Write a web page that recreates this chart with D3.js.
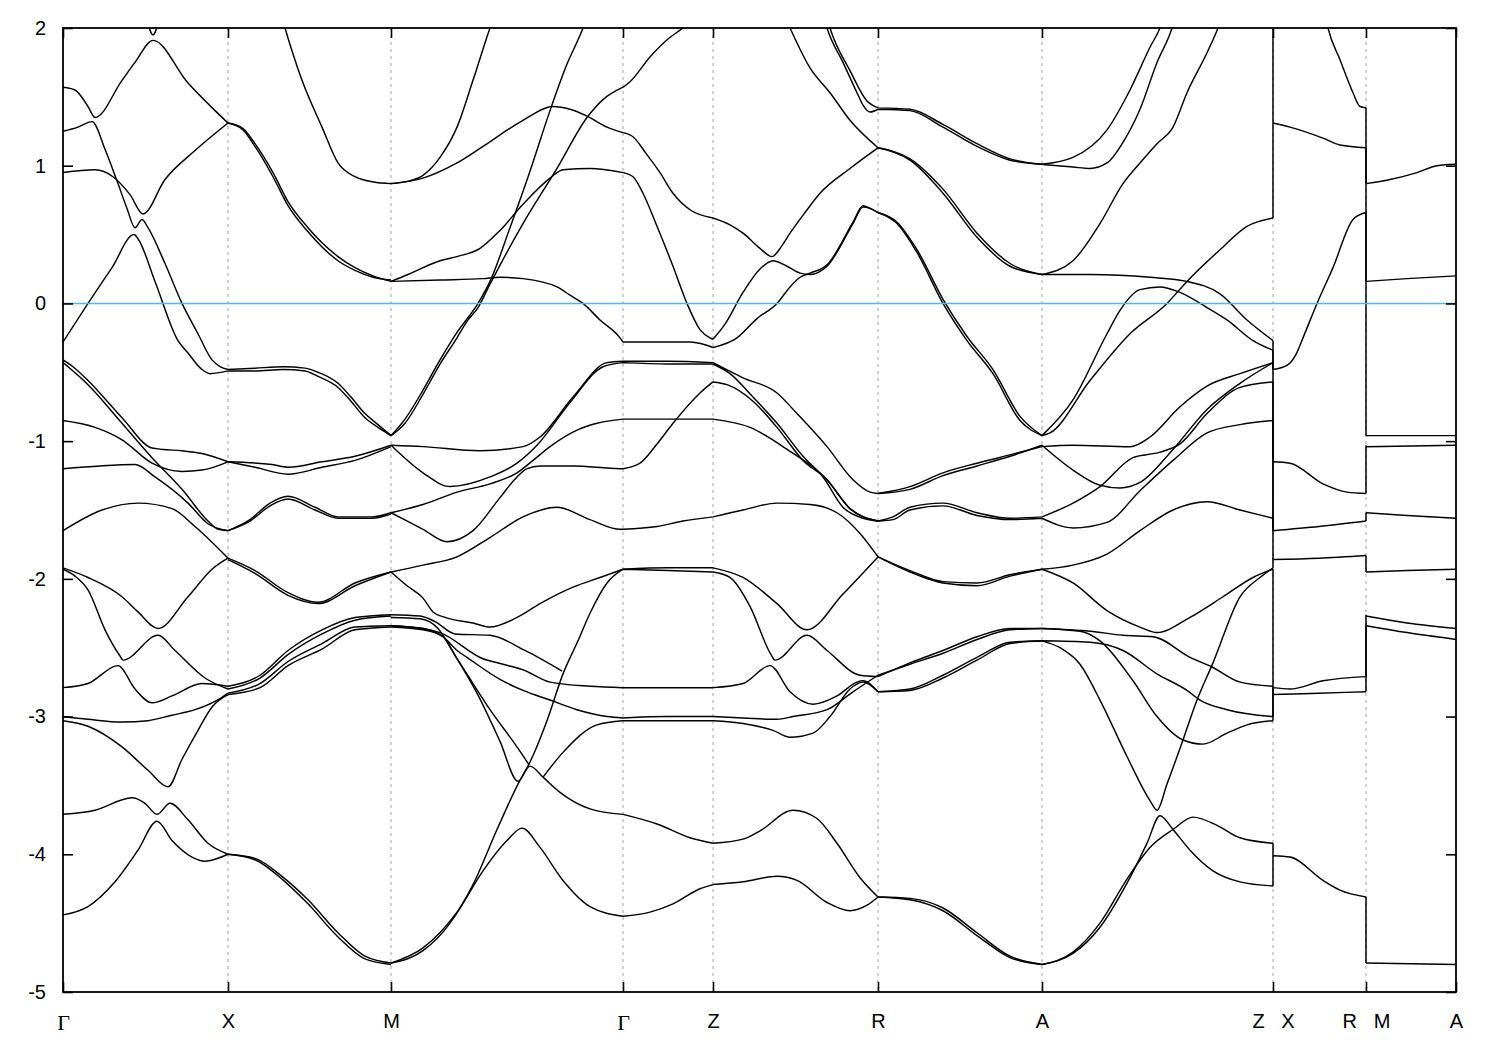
<!DOCTYPE html>
<html><head><meta charset="utf-8">
<script src="https://cdn.jsdelivr.net/npm/d3@7"></script>
<style>body{margin:0;background:#fff}svg{display:block}</style>
</head><body>
<svg id="chart" width="1500" height="1050"></svg>
<script>
// ---- axis data ----
const kTicks  = [0, 1.65, 3.28, 5.60, 6.50, 8.15, 9.79, 12.10, 13.03, 13.93];
const kLabels = ["Γ","X","M","Γ","Z","R","A","Z\u00a0\u00a0\u00a0X","R\u00a0\u00a0\u00a0M","A"];
const yTicks  = [-5,-4,-3,-2,-1,0,1,2];
const fermiLevel = 0;

// ---- Γ–X ----
const gx1 = [[0,1.57],[0.12,1.55],[0.25,1.43],[0.32,1.35],[0.59,1.62],[0.72,1.75],[0.90,1.91],[1.25,1.60],[1.52,1.40],[1.65,1.31]];
const gx2 = [[0,1.25],[0.15,1.28],[0.29,1.32],[0.42,1.12],[0.54,0.89],[0.64,0.69],[0.72,0.55],[0.79,0.61],[0.85,0.55],[1.02,0.29],[1.19,0.0],[1.35,-0.22],[1.49,-0.41],[1.65,-0.48]];
const gx3 = [[0,0.95],[0.32,0.97],[0.50,0.92],[0.67,0.79],[0.80,0.65],[1.02,0.90],[1.32,1.11],[1.65,1.31]];
const gx4 = [[0,-0.28],[0.25,0.0],[0.49,0.26],[0.71,0.50],[0.75,0.47],[0.92,0.16],[1.15,-0.27],[1.25,-0.36],[1.39,-0.48],[1.47,-0.51],[1.65,-0.49]];
const gx5 = [[0.83,2.1],[0.90,1.95],[0.97,2.1]];
const gx6 = [[0,-0.41],[0.10,-0.46],[0.25,-0.56],[0.59,-0.83],[0.89,-1.05],[1.0,-1.06],[1.19,-1.07],[1.39,-1.09],[1.65,-1.15]];
const gx7 = [[0,-0.43],[0.25,-0.59],[0.59,-0.87],[0.89,-1.12],[1.19,-1.35],[1.45,-1.58],[1.55,-1.64],[1.65,-1.65]];
const gx8 = [[0,-0.85],[0.32,-0.90],[0.59,-0.99],[0.89,-1.16],[1.19,-1.22],[1.39,-1.21],[1.65,-1.15]];
const gx9 = [[0,-1.20],[0.37,-1.18],[0.72,-1.17],[0.92,-1.26],[1.25,-1.45],[1.45,-1.60],[1.65,-1.65]];
const gx10 = [[0,-1.65],[0.39,-1.50],[0.75,-1.45],[1.09,-1.49],[1.32,-1.62],[1.65,-1.85]];
const gx11 = [[0,-1.92],[0.25,-1.99],[0.59,-2.13],[0.75,-2.24],[0.95,-2.36],[1.25,-2.13],[1.49,-1.93],[1.65,-1.85]];
const gx12 = [[0,-1.93],[0.12,-1.98],[0.25,-2.08],[0.42,-2.37],[0.57,-2.56],[0.60,-2.59],[0.95,-2.41],[1.12,-2.52],[1.42,-2.72],[1.65,-2.80]];
const gx13 = [[0,-2.79],[0.25,-2.76],[0.55,-2.63],[0.72,-2.80],[0.89,-2.90],[1.09,-2.85],[1.39,-2.76],[1.65,-2.78]];
const gx14 = [[0,-3.00],[0.25,-3.02],[0.59,-3.04],[0.85,-3.03],[1.09,-2.99],[1.32,-2.95],[1.59,-2.86],[1.65,-2.83]];
const gx15 = [[0,-3.03],[0.25,-3.07],[0.59,-3.22],[0.85,-3.39],[1.05,-3.51],[1.19,-3.31],[1.35,-3.10],[1.49,-2.93],[1.65,-2.84]];
const gx16 = [[0,-3.71],[0.32,-3.68],[0.69,-3.59],[0.82,-3.63],[0.94,-3.71],[1.07,-3.63],[1.25,-3.75],[1.45,-3.92],[1.65,-4.0]];
const gx17 = [[0,-4.44],[0.25,-4.38],[0.52,-4.20],[0.75,-3.97],[0.94,-3.76],[1.09,-3.90],[1.29,-4.02],[1.42,-4.05],[1.65,-4.0]];

// ---- X–M ----
const xm1 = [[1.65,1.31],[1.80,1.26],[1.92,1.14],[2.10,0.92],[2.25,0.71],[2.45,0.52],[2.59,0.41],[2.75,0.31],[2.92,0.24],[3.10,0.19],[3.28,0.17]];
const xm2 = [[1.65,1.31],[1.80,1.27],[1.92,1.16],[2.10,0.95],[2.25,0.74],[2.45,0.55],[2.59,0.44],[2.75,0.34],[2.92,0.26],[3.10,0.20],[3.28,0.16]];
const xm3 = [[2.18,2.1],[2.22,2.0],[2.39,1.62],[2.59,1.28],[2.75,1.02],[2.92,0.92],[3.12,0.88],[3.28,0.87]];
const xm4 = [[1.65,-0.48],[1.92,-0.47],[2.20,-0.46],[2.42,-0.47],[2.55,-0.50],[2.75,-0.58],[2.88,-0.68],[3.02,-0.80],[3.15,-0.88],[3.28,-0.96]];
const xm5 = [[1.65,-0.49],[1.92,-0.49],[2.20,-0.48],[2.42,-0.49],[2.55,-0.53],[2.75,-0.61],[2.88,-0.71],[3.02,-0.83],[3.15,-0.90],[3.28,-0.96]];
const xm6 = [[1.65,-1.15],[1.92,-1.19],[2.25,-1.24],[2.59,-1.19],[2.92,-1.14],[3.28,-1.04]];
const xm7 = [[1.65,-1.15],[2.09,-1.17],[2.25,-1.19],[2.59,-1.15],[2.92,-1.11],[3.28,-1.03]];
const xm8 = [[1.65,-1.65],[1.87,-1.58],[2.07,-1.47],[2.25,-1.42],[2.52,-1.50],[2.75,-1.56],[3.09,-1.56],[3.28,-1.53]];
const xm9 = [[1.65,-1.65],[1.87,-1.57],[2.07,-1.45],[2.25,-1.40],[2.52,-1.48],[2.75,-1.55],[3.09,-1.55],[3.28,-1.52]];
const xm10 = [[1.65,-1.85],[1.92,-1.94],[2.25,-2.10],[2.55,-2.17],[2.92,-2.03],[3.28,-1.95]];
const xm11 = [[1.65,-1.86],[1.92,-1.96],[2.25,-2.12],[2.55,-2.18],[2.92,-2.05],[3.28,-1.95]];
const xm12 = [[1.65,-2.78],[1.97,-2.70],[2.25,-2.52],[2.59,-2.37],[2.92,-2.28],[3.28,-2.26]];
const xm13 = [[1.65,-2.80],[1.97,-2.72],[2.25,-2.55],[2.59,-2.40],[2.92,-2.30],[3.28,-2.27]];
const xm14 = [[1.65,-2.83],[1.97,-2.76],[2.25,-2.60],[2.59,-2.47],[2.92,-2.35],[3.28,-2.34]];
const xm15 = [[1.65,-2.84],[1.97,-2.79],[2.25,-2.63],[2.59,-2.51],[2.92,-2.37],[3.28,-2.35]];
const xm16 = [[1.65,-4.00],[1.92,-4.03],[2.19,-4.16],[2.45,-4.33],[2.75,-4.57],[3.02,-4.74],[3.28,-4.79]];
const xm17 = [[1.65,-4.00],[1.92,-4.04],[2.19,-4.18],[2.45,-4.36],[2.75,-4.60],[3.02,-4.76],[3.28,-4.80]];

// ---- M–Γ–Z–R–A–Z bands ----
const chainA = [[3.28,0.87],[3.60,0.91],[3.94,1.02],[4.20,1.14],[4.60,1.33],[4.90,1.43],[5.07,1.41],[5.24,1.36],[5.44,1.28],[5.60,1.24],
  [5.70,1.21],[5.83,1.09],[5.97,0.95],[6.10,0.80],[6.27,0.68],[6.50,0.62],
  [6.67,0.57],[6.80,0.51],[6.97,0.40],[7.09,0.34],[7.19,0.42],[7.27,0.51],[7.42,0.66],[7.57,0.80],[7.87,0.98],[8.15,1.13],
  [8.47,1.04],[8.80,0.80],[9.14,0.48],[9.47,0.27],[9.79,0.21],
  [10.27,0.21],[10.87,0.19],[11.24,0.16],[11.57,0.07],[11.84,-0.12],[12.10,-0.27]];
const chainB = [[3.28,0.87],[3.47,0.89],[3.60,0.93],[3.77,1.06],[3.94,1.28],[4.10,1.62],[4.27,2.0],[4.32,2.1]];
const chainC = [[3.28,0.16],[3.45,0.21],[3.60,0.26],[3.77,0.31],[3.94,0.34],[4.17,0.40],[4.37,0.53],[4.60,0.72],[4.87,0.91],[5.00,0.97],[5.27,0.98],[5.60,0.95],
  [5.70,0.92],[5.80,0.80],[5.94,0.56],[6.10,0.27],[6.24,0.0],[6.37,-0.19],[6.47,-0.25],[6.50,-0.26],
  [6.62,-0.15],[6.80,0.08],[6.97,0.25],[7.10,0.31],[7.24,0.27],[7.37,0.22],[7.47,0.21],[7.64,0.27],[7.90,0.58],[8.00,0.70],[8.07,0.69],[8.15,0.66],
  [8.34,0.58],[8.54,0.37],[8.80,0.0],[9.04,-0.27],[9.30,-0.51],[9.57,-0.85],[9.79,-0.96],
  [10.10,-0.70],[10.44,-0.22],[10.57,-0.05],[10.77,0.10],[10.97,0.12],[11.17,0.08],[11.44,-0.03],[11.64,-0.12],[11.90,-0.27],[12.10,-0.34]];
const chainD = [[3.28,0.16],[3.77,0.17],[4.20,0.18],[4.37,0.19],[4.60,0.18],[4.94,0.12],[5.07,0.06],[5.20,0.0],[5.37,-0.12],[5.57,-0.25],[5.60,-0.28],
  [5.90,-0.28],[6.27,-0.28],[6.42,-0.30],[6.50,-0.32],
  [6.74,-0.25],[6.94,-0.11],[7.14,0.0],[7.27,0.12],[7.37,0.19],[7.47,0.22],[7.64,0.28],[7.90,0.59],[8.00,0.71],[8.07,0.69],[8.15,0.66],
  [8.34,0.59],[8.54,0.39],[8.80,0.03],[9.04,-0.24],[9.30,-0.48],[9.57,-0.82],[9.79,-0.96],
  [9.87,-0.94],[10.27,-0.56],[10.67,-0.22],[11.04,0.0],[11.24,0.16],[11.57,0.39],[11.84,0.56],[12.10,0.62]];
const chainE = [[3.28,-0.96],[3.42,-0.84],[3.60,-0.63],[3.77,-0.41],[3.94,-0.21],[4.15,0.0],[4.27,0.16],[4.47,0.55],[4.67,0.96],[4.87,1.40],[5.03,1.72],[5.20,2.0],[5.25,2.1]];
const chainF = [[3.28,-0.96],[3.42,-0.87],[3.60,-0.66],[3.77,-0.44],[3.94,-0.25],[4.04,-0.13],[4.15,-0.03],[4.27,0.14],[4.60,0.58],[4.94,0.98],[5.24,1.35],[5.40,1.48],[5.60,1.57],
  [5.67,1.61],[5.87,1.79],[6.05,1.92],[6.20,2.0],[6.30,2.06]];
const chainG = [[3.28,-1.03],[3.60,-1.04],[4.17,-1.07],[4.60,-1.04],[4.77,-0.97],[5.10,-0.68],[5.44,-0.43],[5.60,-0.42],
  [6.05,-0.42],[6.50,-0.43],
  [6.80,-0.54],[7.14,-0.65],[7.34,-0.80],[7.64,-1.04],[7.90,-1.28],[8.07,-1.37],[8.15,-1.38],
  [8.47,-1.33],[8.80,-1.23],[9.14,-1.16],[9.47,-1.10],[9.79,-1.04],
  [10.10,-1.03],[10.67,-1.04],[10.87,-0.97],[11.17,-0.75],[11.44,-0.60],[11.77,-0.51],[12.10,-0.43]];
const chainH = [[3.28,-1.03],[3.60,-1.23],[3.87,-1.33],[4.27,-1.26],[4.54,-1.16],[4.74,-1.03],[5.07,-0.72],[5.40,-0.46],[5.60,-0.43],
  [6.05,-0.44],[6.50,-0.44],
  [6.67,-0.51],[6.90,-0.68],[7.14,-0.87],[7.40,-1.11],[7.60,-1.26],[7.80,-1.48],[8.00,-1.56],[8.15,-1.58],
  [8.30,-1.55],[8.47,-1.48],[8.80,-1.45],[9.14,-1.52],[9.47,-1.56],[9.79,-1.55],
  [10.10,-1.45],[10.37,-1.33],[10.70,-1.12],[10.97,-1.08],[11.17,-1.02],[11.44,-0.80],[11.77,-0.61],[12.10,-0.57]];
const chainI = [[3.28,-1.52],[3.60,-1.46],[3.94,-1.37],[4.27,-1.31],[4.54,-1.23],[4.70,-1.14],[4.87,-1.04],[5.14,-0.92],[5.34,-0.87],[5.60,-0.84],
  [6.05,-0.84],[6.50,-0.84],
  [6.87,-0.90],[7.24,-1.06],[7.64,-1.28],[7.87,-1.49],[8.15,-1.58],
  [8.30,-1.57],[8.47,-1.50],[8.80,-1.47],[9.14,-1.54],[9.47,-1.57],[9.79,-1.56],
  [10.10,-1.63],[10.44,-1.59],[10.77,-1.36],[11.10,-1.14],[11.44,-0.94],[11.77,-0.88],[12.10,-0.85]];
const chainJ = [[3.28,-1.52],[3.60,-1.64],[3.84,-1.73],[4.10,-1.65],[4.37,-1.41],[4.54,-1.26],[4.64,-1.20],[4.77,-1.18],[5.10,-1.18],[5.57,-1.20],[5.60,-1.20],
  [5.77,-1.16],[5.93,-1.03],[6.10,-0.87],[6.37,-0.65],[6.50,-0.57],
  [6.64,-0.59],[6.90,-0.71],[7.14,-0.90],[7.40,-1.14],[7.64,-1.28],[7.87,-1.49],[8.15,-1.58]];
const chainK = [[3.28,-1.95],[3.60,-1.90],[3.94,-1.84],[4.27,-1.70],[4.60,-1.55],[4.94,-1.48],[5.27,-1.57],[5.57,-1.64],[5.60,-1.64],
  [5.94,-1.62],[6.20,-1.58],[6.50,-1.55],
  [6.80,-1.50],[7.14,-1.45],[7.47,-1.46],[7.74,-1.52],[7.97,-1.67],[8.15,-1.84],
  [8.47,-1.94],[8.80,-2.02],[9.14,-2.03],[9.47,-1.97],[9.79,-1.93],
  [10.10,-1.90],[10.44,-1.82],[10.77,-1.65],[11.10,-1.50],[11.44,-1.44],[11.77,-1.50],[12.10,-1.56]];
const chainL = [[3.28,-1.95],[3.44,-2.05],[3.60,-2.14],[3.70,-2.24],[3.82,-2.28],[4.10,-2.32],[4.27,-2.35],[4.54,-2.28],[4.77,-2.18],[5.10,-2.06],[5.37,-1.99],[5.60,-1.93],
  [6.05,-1.92],[6.50,-1.92],
  [6.80,-1.99],[7.14,-2.18],[7.44,-2.37],[7.80,-2.11],[8.15,-1.84],
  [8.47,-1.95],[8.80,-2.03],[9.14,-2.05],[9.47,-1.98],[9.79,-1.93],
  [10.10,-2.03],[10.44,-2.23],[10.77,-2.35],[10.94,-2.39],[11.27,-2.28],[11.60,-2.13],[11.90,-1.99],[12.10,-1.93]];
const chainM = [[3.28,-4.79],[3.60,-4.70],[3.87,-4.50],[4.10,-4.22],[4.34,-3.82],[4.55,-3.49],[4.67,-3.33],[4.84,-3.03],[5.00,-2.69],[5.15,-2.45],[5.27,-2.25],[5.44,-2.03],[5.60,-1.93],
  [6.05,-1.94],[6.50,-1.95],
  [6.67,-1.99],[6.87,-2.20],[7.08,-2.55],[7.12,-2.59],[7.44,-2.41],[7.64,-2.52],[7.97,-2.70],[8.15,-2.71],
  [8.47,-2.61],[8.80,-2.52],[9.14,-2.42],[9.47,-2.36],[9.79,-2.36],
  [10.27,-2.38],[10.60,-2.41],[10.90,-2.42],[11.27,-2.57],[11.49,-2.64],[11.77,-2.75],[12.10,-2.78]];
const chainN = [[3.28,-4.79],[3.60,-4.68],[3.94,-4.42],[4.20,-4.12],[4.44,-3.90],[4.59,-3.81],[4.77,-3.95],[5.00,-4.19],[5.27,-4.38],[5.60,-4.45],
  [5.87,-4.42],[6.10,-4.36],[6.37,-4.25],[6.50,-4.22],
  [6.80,-4.20],[7.14,-4.16],[7.34,-4.19],[7.64,-4.35],[7.87,-4.41],[8.04,-4.37],[8.15,-4.31],
  [8.47,-4.32],[8.80,-4.39],[9.14,-4.57],[9.47,-4.74],[9.79,-4.80],
  [10.10,-4.72],[10.37,-4.53],[10.64,-4.21],[10.84,-3.92],[10.97,-3.72],[11.10,-3.82],[11.27,-3.97],[11.50,-4.12],[11.77,-4.20],[12.10,-4.23]];
const chainO = [[3.28,-2.28],[3.57,-2.29],[3.75,-2.36],[3.89,-2.52],[4.14,-2.83],[4.37,-3.18],[4.55,-3.47],[4.67,-3.36],[4.80,-3.44],[4.97,-3.55],[5.27,-3.67],[5.60,-3.71],
  [5.94,-3.78],[6.27,-3.88],[6.50,-3.92],
  [6.80,-3.89],[6.97,-3.83],[7.30,-3.68],[7.54,-3.74],[7.74,-3.92],[7.97,-4.17],[8.15,-4.31],
  [8.47,-4.33],[8.80,-4.41],[9.14,-4.59],[9.47,-4.75],[9.79,-4.80],
  [10.10,-4.71],[10.37,-4.50],[10.64,-4.18],[10.87,-3.95],[11.10,-3.82],[11.30,-3.73],[11.54,-3.79],[11.77,-3.88],[12.10,-3.92]];
const chainP = [[4.80,-3.44],[5.00,-3.26],[5.34,-3.06],[5.60,-3.03],
  [6.05,-3.03],[6.50,-3.03],
  [6.80,-3.05],[7.10,-3.10],[7.27,-3.15],[7.50,-3.12],[7.67,-3.00],[7.87,-2.80],[8.00,-2.75],[8.15,-2.82],
  [8.47,-2.81],[8.80,-2.72],[9.14,-2.59],[9.47,-2.47],[9.79,-2.45],
  [10.27,-2.46],[10.60,-2.52],[10.94,-2.69],[11.24,-2.81],[11.37,-2.88],[11.64,-2.95],[12.10,-3.00]];
const chainQ = [[3.28,-2.34],[3.60,-2.36],[3.80,-2.42],[3.94,-2.52],[4.04,-2.57],[4.37,-2.73],[4.60,-2.81],[4.87,-2.88],[5.14,-2.95],[5.44,-3.0],[5.60,-3.01],
  [6.05,-3.0],[6.50,-3.0],
  [6.80,-3.01],[7.14,-3.02],[7.30,-3.0],[7.64,-2.95],[7.90,-2.82],[8.15,-2.70],
  [8.47,-2.62],[8.80,-2.54],[9.14,-2.44],[9.47,-2.37],[9.79,-2.36],
  [10.17,-2.38],[10.37,-2.45],[10.70,-2.74],[10.94,-3.0],[11.20,-3.17],[11.40,-3.20],[11.64,-3.12],[11.84,-3.06],[12.10,-3.03]];
const chainR = [[3.28,-2.34],[3.60,-2.36],[3.77,-2.39],[4.20,-2.58],[4.40,-2.62],[4.60,-2.66],[4.87,-2.75],[5.27,-2.78],[5.60,-2.79],
  [6.05,-2.79],[6.50,-2.79],
  [6.80,-2.76],[7.07,-2.63],[7.27,-2.82],[7.50,-2.91],[7.74,-2.85],[7.94,-2.75],[8.00,-2.74],[8.15,-2.82],
  [8.47,-2.80],[8.80,-2.70],[9.14,-2.57],[9.47,-2.46],[9.79,-2.45],
  [9.97,-2.50],[10.17,-2.62],[10.37,-2.88],[10.64,-3.29],[10.87,-3.61],[10.94,-3.68],[11.04,-3.49],[11.20,-3.17],[11.34,-2.88],[11.50,-2.61],[11.77,-2.13],[11.97,-1.99],[12.10,-1.92]];
const chainS = [[3.28,-2.26],[3.57,-2.27],[3.72,-2.31],[3.92,-2.40],[4.27,-2.41],[4.62,-2.52],[4.99,-2.67]];
const chainT = [[3.28,-2.35],[3.60,-2.37],[3.80,-2.42],[3.94,-2.58],[4.10,-2.76],[4.27,-2.95],[4.54,-3.22],[4.66,-3.35]];
const chainU = [[7.22,2.08],[7.27,2.0],[7.47,1.71],[7.67,1.53],[7.87,1.33],[8.15,1.13],[8.47,1.05],[8.80,0.83],[9.14,0.51],[9.47,0.29],[9.79,0.21],
  [10.10,0.31],[10.37,0.58],[10.60,0.87],[10.77,1.02],[10.94,1.16],[11.10,1.28],[11.24,1.53],[11.44,1.82],[11.55,2.0],[11.60,2.1]];
const chainV = [[7.60,2.1],[7.64,2.0],[7.80,1.75],[7.94,1.53],[8.00,1.44],[8.07,1.39],[8.15,1.41],
  [8.47,1.40],[8.80,1.28],[9.14,1.14],[9.47,1.04],[9.79,1.01],
  [10.10,1.06],[10.44,1.26],[10.67,1.55],[10.87,1.86],[10.97,2.0],[11.02,2.1]];
const chainW = [[7.63,2.1],[7.67,2.0],[7.87,1.69],[8.04,1.47],[8.15,1.42],
  [8.47,1.41],[8.80,1.30],[9.14,1.16],[9.47,1.05],[9.79,1.01],
  [10.10,0.99],[10.27,0.98],[10.44,1.02],[10.60,1.17],[10.77,1.41],[10.94,1.75],[11.09,2.0],[11.13,2.1]];
const chainX = [[8.15,-1.38],[8.47,-1.35],[8.80,-1.25],[9.14,-1.18],[9.47,-1.11],[9.79,-1.03],
  [10.10,-1.21],[10.37,-1.32],[10.57,-1.34],[10.77,-1.30],[11.10,-1.06],[11.44,-0.77],[11.77,-0.58],[12.10,-0.43]];

// ---- X–R ----
const xr1 = [[12.10,1.31],[12.27,1.28],[12.60,1.20],[12.77,1.15],[13.03,1.13]];
const xr2 = [[12.62,2.1],[12.65,2.0],[12.77,1.77],[12.90,1.53],[12.97,1.43],[13.03,1.42]];
const xr3 = [[12.10,-0.48],[12.24,-0.45],[12.33,-0.37],[12.40,-0.25],[12.54,0.0],[12.70,0.26],[12.90,0.61],[13.03,0.66]];
const xr4 = [[12.10,-1.15],[12.27,-1.16],[12.60,-1.31],[12.84,-1.37],[13.03,-1.38]];
const xr5 = [[12.10,-1.65],[12.56,-1.62],[13.03,-1.58]];
const xr6 = [[12.10,-1.86],[12.56,-1.85],[13.03,-1.83]];
const xr7 = [[12.10,-2.79],[12.27,-2.80],[12.60,-2.74],[13.03,-2.71]];
const xr8 = [[12.10,-2.84],[12.56,-2.83],[13.03,-2.82]];
const xr9 = [[12.10,-4.01],[12.27,-4.02],[12.60,-4.19],[12.77,-4.26],[13.03,-4.31]];

// ---- M–A ----
const ma1 = [[13.03,0.87],[13.27,0.90],[13.54,0.95],[13.74,1.0],[13.93,1.01]];
const ma2 = [[13.03,0.16],[13.44,0.18],[13.93,0.20]];
const ma3 = [[13.03,-0.96],[13.93,-0.96]];
const ma4 = [[13.03,-1.04],[13.93,-1.03]];
const ma5 = [[13.03,-1.52],[13.44,-1.54],[13.93,-1.56]];
const ma6 = [[13.03,-1.95],[13.44,-1.94],[13.93,-1.93]];
const ma7 = [[13.03,-2.27],[13.44,-2.32],[13.93,-2.36]];
const ma8 = [[13.03,-2.34],[13.44,-2.39],[13.93,-2.44]];
const ma9 = [[13.03,-4.79],[13.93,-4.80]];

// ---- band jumps at the path breaks Z|X and R|M : [E before, E after] ----
const jumpZX = [[2.1,1.31],[0.62,1.31],[-0.27,-0.48],[-0.34,-0.48],[-0.43,-1.15],[-0.57,-1.65],[-0.85,-1.65],[-1.56,-1.86],[-1.92,-1.85],[-1.93,-2.84],[-2.78,-2.83],[-3.0,-2.80],[-3.03,-2.79],[-3.92,-4.0],[-4.23,-4.0]];
const jumpRM = [[-4.31,-4.79],[-2.82,-2.34],[-2.71,-2.26],[-1.83,-1.95],[-1.58,-1.52],[-1.38,-1.03],[0.66,-0.96],[1.13,0.16],[1.42,0.87]];

const bands = [gx1,gx2,gx3,gx4,gx5,gx6,gx7,gx8,gx9,gx10,gx11,gx12,gx13,gx14,gx15,gx16,gx17,
  xm1,xm2,xm3,xm4,xm5,xm6,xm7,xm8,xm9,xm10,xm11,xm12,xm13,xm14,xm15,xm16,xm17,
  chainA,chainB,chainC,chainD,chainE,chainF,chainG,chainH,chainI,chainJ,chainK,chainL,chainM,chainN,chainO,chainP,chainQ,chainR,chainS,chainT,chainU,chainV,chainW,chainX,
  xr1,xr2,xr3,xr4,xr5,xr6,xr7,xr8,xr9, ma1,ma2,ma3,ma4,ma5,ma6,ma7,ma8,ma9];

// ---- drawing ----
const M = {l:63, r:1456, t:28, b:992};
const x = d3.scaleLinear().domain([kTicks[0], kTicks[kTicks.length-1]]).range([M.l, M.r]);
const y = d3.scaleLinear().domain([-5, 2]).range([M.b, M.t]);
const svg = d3.select('#chart');
svg.append('rect').attr('width',1500).attr('height',1050).attr('fill','#fff');
svg.append('defs').append('clipPath').attr('id','clip')
  .append('rect').attr('x',M.l).attr('y',M.t).attr('width',M.r-M.l).attr('height',M.b-M.t);

// dashed verticals at symmetry points
svg.append('g').selectAll('line').data(kTicks.slice(1,-1)).join('line')
  .attr('x1',d=>x(d)).attr('x2',d=>x(d)).attr('y1',M.t).attr('y2',M.b)
  .attr('stroke','#a0a0a0').attr('stroke-width',1).attr('stroke-dasharray','3,4');

const isSym = k => kTicks.some(t => Math.abs(t-k) < 1e-9);
const lineGen = d3.line().x(d=>x(d[0])).y(d=>y(d[1])).curve(d3.curveMonotoneX);
function bandPath(pts){
  const runs=[]; let cur=[pts[0]];
  for(let i=1;i<pts.length;i++){
    cur.push(pts[i]);
    if(isSym(pts[i][0]) && i<pts.length-1){ runs.push(cur); cur=[pts[i]]; }
  }
  runs.push(cur);
  return runs.filter(r=>r.length>1).map(r=>lineGen(r)).join('');
}
const gB = svg.append('g').attr('clip-path','url(#clip)');
gB.selectAll('path').data(bands).join('path')
  .attr('d',bandPath).attr('fill','none').attr('stroke','#000').attr('stroke-width',1.45)
  .attr('stroke-linejoin','round');
gB.append('g').selectAll('line').data(jumpZX).join('line')
  .attr('x1',x(kTicks[7])).attr('x2',x(kTicks[7])).attr('y1',d=>y(d[0])).attr('y2',d=>y(d[1]))
  .attr('stroke','#000').attr('stroke-width',1.5);
gB.append('g').selectAll('line').data(jumpRM).join('line')
  .attr('x1',x(kTicks[8])).attr('x2',x(kTicks[8])).attr('y1',d=>y(d[0])).attr('y2',d=>y(d[1]))
  .attr('stroke','#000').attr('stroke-width',1.5);

// Fermi level
svg.append('line').attr('x1',M.l).attr('x2',M.r).attr('y1',y(fermiLevel)).attr('y2',y(fermiLevel))
  .attr('stroke','#56b4e9').attr('stroke-width',1.6);

// axes
const font = "'Liberation Sans', Arial, sans-serif";
function styleAxis(g){
  g.select('.domain').remove();
  g.selectAll('.tick line').attr('stroke','#000').attr('stroke-width',1.6);
  g.selectAll('text').attr('font-family',font).attr('font-size',20).attr('fill','#000');
}
svg.append('g').attr('transform',`translate(${M.l},0)`)
  .call(d3.axisLeft(y).tickValues(yTicks).tickSize(-10).tickPadding(17).tickFormat(d=>String(d)))
  .call(styleAxis);
svg.append('g').attr('transform',`translate(${M.r},0)`)
  .call(d3.axisRight(y).tickValues(yTicks).tickSize(-10).tickFormat(''))
  .call(styleAxis);
const gxAxis = svg.append('g').attr('transform',`translate(0,${M.b})`)
  .call(d3.axisBottom(x).tickValues(kTicks).tickSize(-10).tickPadding(22).tickFormat((d,i)=>kLabels[i]))
  .call(styleAxis);
gxAxis.selectAll('text').filter(d=>kLabels[kTicks.indexOf(d)]==='Γ')
  .attr('font-family',"'Liberation Serif','Times New Roman',serif").attr('font-size',22);
svg.append('g').attr('transform',`translate(0,${M.t})`)
  .call(d3.axisTop(x).tickValues(kTicks).tickSize(-10).tickFormat(''))
  .call(styleAxis);

// frame
svg.append('rect').attr('x',M.l).attr('y',M.t).attr('width',M.r-M.l).attr('height',M.b-M.t)
  .attr('fill','none').attr('stroke','#000').attr('stroke-width',1.8);
</script>
</body></html>
